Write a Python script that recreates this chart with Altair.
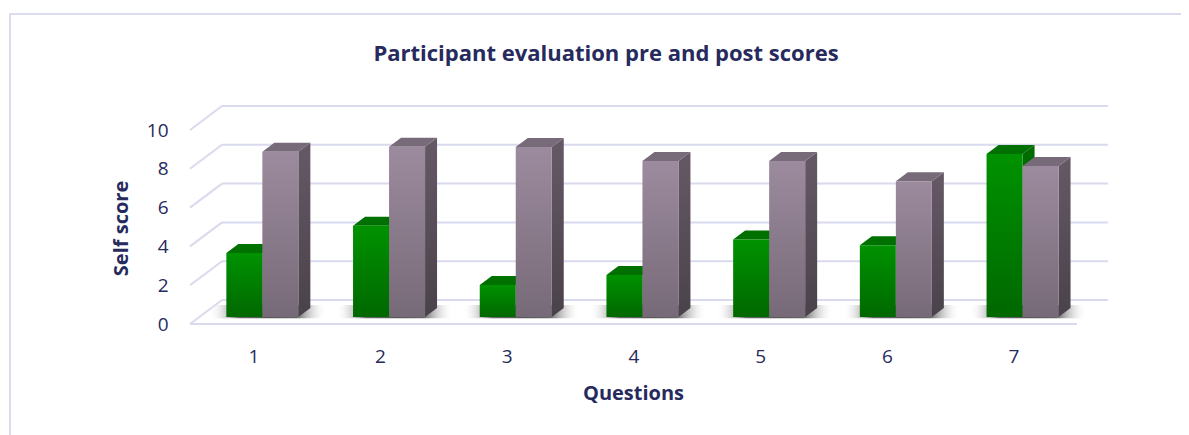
import altair as alt
import pandas as pd

title = "Participant evaluation pre and post scores"
questions = [1, 2, 3, 4, 5, 6, 7]
pre_scores = [3.3, 4.7, 1.65, 2.17, 4.0, 3.7, 8.4]
post_scores = [8.52, 8.78, 8.76, 8.04, 8.04, 7.0, 7.78]
score_ticks = [0, 2, 4, 6, 8, 10]

PX_X, PX_Y = 126.7, 19.4
PLOT_W, PLOT_H = 918, 218
X0 = 0.5
XMAX = X0 + PLOT_W / PX_X
YMAX = PLOT_H / PX_Y
WALL_DX, WALL_DY = 32 / PX_X, 24 / PX_Y
DEPTH_X, DEPTH_Y = 12 / PX_X, 9 / PX_Y
BASE = 7 / PX_Y
BAR_W = 36 / PX_X
SHIFT = 9 / PX_X

FONT = "Open Sans"
INK = "#262a5c"
GRID = "#d9daee"

x_scale = alt.Scale(domain=[X0, XMAX], nice=False, zero=False)
y_scale = alt.Scale(domain=[0, YMAX], nice=False, zero=False)


def grad(c1, c2):
    return alt.LinearGradient(
        gradient="linear", x1=0, y1=0, x2=0, y2=1,
        stops=[alt.GradientStop(offset=0, color=c1), alt.GradientStop(offset=1, color=c2)],
    )


X = lambda f: alt.X(f, type="quantitative", scale=x_scale, axis=None)
Y = lambda f: alt.Y(f, type="quantitative", scale=y_scale, axis=None)

grid = pd.DataFrame({"v": score_ticks})
grid["x0"] = X0
grid["x1"] = X0 + WALL_DX
grid["xe"] = XMAX
grid["yb"] = grid["v"] + WALL_DY

wall = alt.Chart(grid).mark_rule(color=GRID, strokeWidth=2).encode(
    x=alt.X("x0:Q", scale=x_scale, axis=alt.Axis(
        values=questions, title="Questions", domain=False, ticks=False, grid=False,
        labelFont=FONT, labelFontSize=19, labelColor=INK, labelPadding=23, format="d",
        labelFlush=False, labelOverlap=False, titleFont=FONT, titleFontSize=20, titleFontWeight="bold",
        titleColor=INK, titleX=443, titleY=69, titleBaseline="middle")),
    x2="x1:Q",
    y=alt.Y("v:Q", scale=y_scale, axis=alt.Axis(
        values=score_ticks, title="Self score", domain=False, ticks=False, grid=False,
        labelFont=FONT, labelFontSize=19, labelColor=INK, labelPadding=22,
        titleFont=FONT, titleFontSize=20, titleFontWeight="bold", titleColor=INK,
        titleX=-69, titleY=122, titleAnchor="middle", titleBaseline="middle")),
    y2="yb:Q",
)
back = alt.Chart(grid).mark_rule(color=GRID, strokeWidth=2).encode(
    x=X("x1:Q"), x2="xe:Q", y=Y("yb:Q"))
floor = alt.Chart(pd.DataFrame({"a": [X0], "b": [X0 + 7], "y": [0]})).mark_rule(
    color=GRID, strokeWidth=2).encode(x=X("a:Q"), x2="b:Q", y=Y("y:Q"))

frame_top = alt.Chart(pd.DataFrame({"k": [0]})).mark_rule(color="#dcdcf0", strokeWidth=2).encode(
    x=alt.value(-181), x2=alt.value(991), y=alt.value(-92))
frame_left = alt.Chart(pd.DataFrame({"k": [0]})).mark_rule(color="#dcdcf0", strokeWidth=2).encode(
    x=alt.value(-180), y=alt.value(-92), y2=alt.value(329))

shadow_df = pd.DataFrame({"q": questions})
shadow_df["l"] = shadow_df["q"] + SHIFT - BAR_W - 17 / PX_X
shadow_df["r"] = shadow_df["q"] + SHIFT + BAR_W + 28 / PX_X
shadow_df["b"] = BASE - 0.06
shadow_df["t"] = BASE + 12 / PX_Y
shadow_paint = alt.RadialGradient(
    gradient="radial", x1=0.5, y1=0.5, x2=0.5, y2=0.5, r1=0, r2=0.5,
    stops=[alt.GradientStop(offset=0, color="#555555"),
           alt.GradientStop(offset=0.5, color="#666666"),
           alt.GradientStop(offset=1, color="rgba(255,255,255,0)")],
)
shadows = alt.Chart(shadow_df).mark_rect(color=shadow_paint).encode(
    x=X("l:Q"), x2="r:Q", y=Y("b:Q"), y2="t:Q")


def series_layers(values, lo, hi, front, side, top):
    layers = []
    bars = pd.DataFrame({"q": questions, "v": values})
    bars["l"] = bars["q"] + SHIFT + lo * BAR_W
    bars["r"] = bars["q"] + SHIFT + hi * BAR_W
    bars["top"] = bars["v"] + BASE
    bars["base"] = BASE
    rows = []
    for q, l, r, t in zip(bars["q"], bars["l"], bars["r"], bars["top"]):
        rows.append(dict(q=q, px=r, py=t, pb=BASE))
        rows.append(dict(q=q, px=r + DEPTH_X, py=t + DEPTH_Y, pb=BASE + DEPTH_Y))
    layers.append(alt.Chart(pd.DataFrame(rows)).mark_area(color=side).encode(
        x=X("px:Q"), y=Y("py:Q"), y2="pb:Q", detail="q:N"))
    rows = []
    for q, l, r, t in zip(bars["q"], bars["l"], bars["r"], bars["top"]):
        rows.append(dict(q=q, py=t, pl=l, pr=r))
        rows.append(dict(q=q, py=t + DEPTH_Y, pl=l + DEPTH_X, pr=r + DEPTH_X))
    layers.append(alt.Chart(pd.DataFrame(rows)).mark_area(color=top, orient="horizontal").encode(
        y=Y("py:Q"), x=X("pl:Q"), x2="pr:Q", detail="q:N"))
    layers.append(alt.Chart(bars).mark_rect(color=front).encode(
        x=X("l:Q"), x2="r:Q", y=Y("base:Q"), y2="top:Q"))
    return layers


pre = series_layers(pre_scores, -1, 0, grad("#009200", "#006800"), "#006c00", "#007000")
post = series_layers(post_scores, 0, 1, grad("#9c8b9e", "#776a78"),
                     grad("#655966", "#4a424b"), "#786b79")

chart = alt.layer(wall, back, floor, frame_top, frame_left, shadows, *pre, *post).resolve_axis(
    x="independent", y="independent"
).properties(
    width=PLOT_W,
    height=PLOT_H,
    background="white",
    title=alt.TitleParams(title, font=FONT, fontSize=22, fontWeight="bold", color=INK,
                          anchor="middle", frame="group", dx=-43, offset=-53),
    autosize=alt.AutoSizeParams(type="none"),
    padding={"left": 182, "top": 98, "right": 73, "bottom": 111},
).configure_view(stroke="transparent", strokeWidth=0)

chart.save("out.html", embed_options={"renderer": "svg", "actions": False})
